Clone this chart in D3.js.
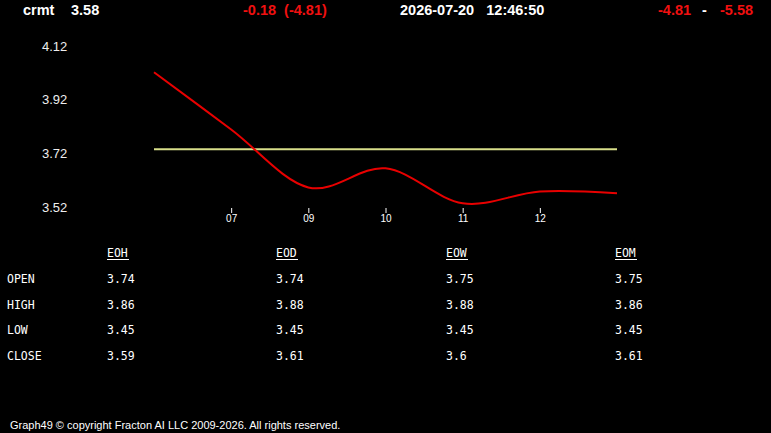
<!DOCTYPE html>
<html>
  <head>
    <script src="https://d3js.org/d3.v7.min.js" charset="utf-8"></script>
    <meta charset="UTF-8">
    <title>crmt</title>
    <style>
      html, body { margin: 0; padding: 0; background: #000; }
      svg { display: block; }
    </style>
  </head>
  <body>
    <svg class="chart"></svg>
    <script type="text/javascript">

     var width = 771,
         height = 433;

     // price line, one point per slot
     var slots = [0, 1, 2, 3, 4, 5, 6];
     var slotLabels = ["", "07", "09", "10", "11", "12", ""];
     var prices = [4.022, 3.809, 3.593, 3.664, 3.534, 3.578, 3.571];
     var openLevel = 3.735;

     var yTicks = [3.52, 3.72, 3.92, 4.12];

     // summary table
     var periods = ["EOH", "EOD", "EOW", "EOM"];
     var rowNames = ["OPEN", "HIGH", "LOW", "CLOSE"];
     var openVals = ["3.74", "3.74", "3.75", "3.75"];
     var highVals = ["3.86", "3.88", "3.88", "3.86"];
     var lowVals = ["3.45", "3.45", "3.45", "3.45"];
     var closeVals = ["3.59", "3.61", "3.6", "3.61"];

     var chart = d3.select(".chart")
                   .attr("width", width)
                   .attr("height", height);

     chart.append("rect")
          .attr("width", width)
          .attr("height", height)
          .attr("fill", "#000");

     var x = d3.scaleLinear().domain([0, 6]).range([154, 617]);
     var y = d3.scaleLinear().domain([3.52, 4.12]).range([207, 46]);

     // header
     var head = chart.append("g")
                     .attr("font-family", "Arial, 'Liberation Sans', sans-serif")
                     .attr("font-weight", "bold")
                     .attr("font-size", 14.5);
     var headItems = [
         {t: "crmt", x: 23, c: "#fff"},
         {t: "3.58", x: 71, c: "#fff"},
         {t: "-0.18  (-4.81)", x: 243, c: "#f01010"},
         {t: "2026-07-20   12:46:50", x: 400, c: "#fff"},
         {t: "-4.81", x: 658, c: "#f01010"},
         {t: "-", x: 702, c: "#fff"},
         {t: "-5.58", x: 720, c: "#f01010"}
     ];
     head.selectAll("text")
         .data(headItems)
         .enter().append("text")
         .attr("x", function(d) { return d.x; })
         .attr("y", 15)
         .attr("fill", function(d) { return d.c; })
         .attr("xml:space", "preserve")
         .style("white-space", "pre")
         .text(function(d) { return d.t; });

     // y labels
     chart.append("g")
          .selectAll("text")
          .data(yTicks)
          .enter().append("text")
          .attr("x", 42)
          .attr("y", function(d) { return y(d); })
          .attr("dy", "0.35em")
          .attr("fill", "#eee")
          .attr("font-family", "Arial, 'Liberation Sans', sans-serif")
          .attr("font-size", 13)
          .text(function(d) { return d.toFixed(2); });

     // x axis
     var xAxis = d3.axisBottom(x)
                   .tickValues([1, 2, 3, 4, 5])
                   .tickSize(5)
                   .tickPadding(2)
                   .tickFormat(function(d) { return slotLabels[d]; });
     var xg = chart.append("g")
                   .attr("transform", "translate(0,208)")
                   .call(xAxis);
     xg.select(".domain").remove();
     xg.selectAll("line").attr("stroke", "#fff");
     xg.selectAll("text")
       .attr("fill", "#fff")
       .attr("font-family", "Arial, 'Liberation Sans', sans-serif")
       .attr("font-size", 10);

     // open level
     chart.append("line")
          .attr("x1", x(0))
          .attr("x2", x(6))
          .attr("y1", y(openLevel))
          .attr("y2", y(openLevel))
          .attr("stroke", "#d8df8a")
          .attr("stroke-width", 2);

     var line = d3.line()
                  .x(function(d) { return x(d); })
                  .y(function(d) { return y(prices[d]); })
                  .curve(d3.curveCardinal.tension(0));

     chart.append("path")
          .datum(slots)
          .attr("d", line)
          .attr("fill", "none")
          .attr("stroke", "#e80000")
          .attr("stroke-width", 2);

     // table
     var colX = [107, 276, 446, 615];
     var rowY = [279, 305, 330, 356];
     var mono = "Consolas, 'DejaVu Sans Mono', monospace";
     var tbl = chart.append("g")
                    .attr("font-family", mono)
                    .attr("font-size", 11.5)
                    .attr("fill", "#fff");

     var hdr = tbl.selectAll(".hdr")
                  .data(periods)
                  .enter().append("g")
                  .attr("class", "hdr");
     hdr.append("text")
        .attr("x", function(d, i) { return colX[i]; })
        .attr("y", 253)
        .attr("dy", "0.35em")
        .text(function(d) { return d; });
     hdr.append("line")
        .attr("x1", function(d, i) { return colX[i]; })
        .attr("x2", function(d, i) { return colX[i] + 22; })
        .attr("y1", 259.5)
        .attr("y2", 259.5)
        .attr("stroke", "#fff")
        .attr("stroke-width", 1);

     tbl.selectAll(".rowname")
        .data(rowNames)
        .enter().append("text")
        .attr("class", "rowname")
        .attr("x", 7)
        .attr("y", function(d, i) { return rowY[i]; })
        .attr("dy", "0.35em")
        .text(function(d) { return d; });

     var rows = [openVals, highVals, lowVals, closeVals];
     rows.forEach(function(vals, r) {
         tbl.selectAll(".v" + r)
            .data(vals)
            .enter().append("text")
            .attr("class", "v" + r)
            .attr("x", function(d, i) { return colX[i]; })
            .attr("y", rowY[r])
            .attr("dy", "0.35em")
            .text(function(d) { return d; });
     });

     // footer
     chart.append("text")
          .attr("x", 10)
          .attr("y", 429)
          .attr("fill", "#fff")
          .attr("font-family", "Arial, 'Liberation Sans', sans-serif")
          .attr("font-size", 11)
          .text("Graph49 \u00a9 copyright Fracton AI LLC 2009-2026. All rights reserved.");

    </script>
  </body>
</html>
